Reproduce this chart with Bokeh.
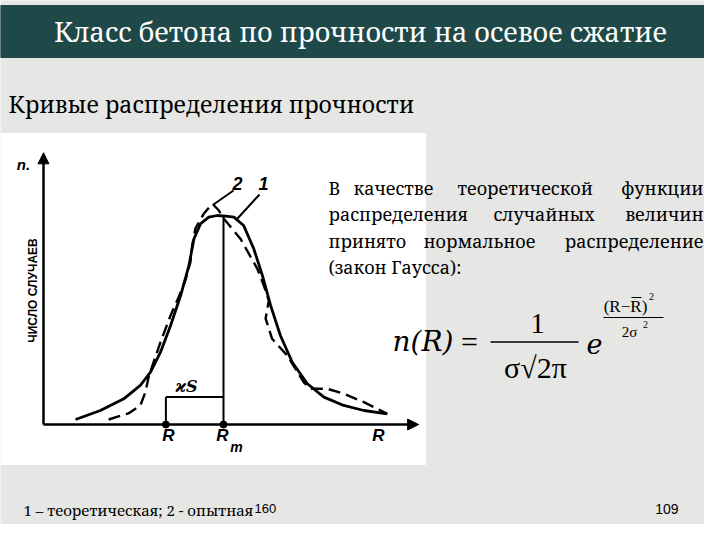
from math import pi
from bokeh.plotting import figure
from bokeh.models import Range1d, Arrow, NormalHead
from bokeh.core.properties import value
from bokeh.embed import file_html
from bokeh.resources import INLINE

# ---- chart data (R in arbitrary strength units, n = number of cases) ----
theory_R = [8.9, 15.8, 22.3, 26.9, 29.7, 32.5, 35.3, 38.1, 40.4, 41.8, 43.6, 45.9, 48.3,
            50.6, 52.9, 55.6, 58.4, 60.8, 63.1, 65.8, 69.1, 73.3, 77.9, 83.4, 89.0, 95.5]
theory_n = [2.4, 6.7, 12.3, 18.7, 25.0, 34.6, 47.4, 61.7, 76.1, 88.9, 96.0, 99.2, 100.0,
            99.7, 99.2, 95.2, 84.1, 71.3, 56.9, 42.6, 29.8, 19.5, 13.1, 9.1, 6.7, 5.1]
exp_R = [18.1, 23.6, 26.9, 28.3, 29.3, 32.5, 35.3, 37.5, 39.4, 40.8, 41.3, 42.2, 44.5, 46.9,
         48.7, 50.1, 54.7, 59.4, 61.2, 62.6, 61.7, 63.5, 67.7, 72.3, 74.2, 78.8, 83.4, 89.0, 95.5]
exp_n = [2.4, 5.3, 9.1, 15.5, 23.4, 39.4, 52.2, 60.8, 68.9, 77.5, 85.6, 93.8, 100.8, 105.7,
         102.4, 98.4, 88.9, 74.5, 66.5, 59.3, 50.7, 41.0, 33.0, 20.2, 17.1, 17.1, 14.7, 10.7, 5.1]
R_char = 34.0      # characteristic strength R
R_mean = 50.0      # mean strength Rm
n_peak = 100.0
R_axis_max = 104.2
n_axis_max = 130.0
tick_labels = ["R", "R", "R"]

title = "Класс бетона по прочности на осевое сжатие"
subtitle = "Кривые распределения прочности"
footer = "1 – теоретическая; 2 - опытная"

# ---- canvas: main ranges are slide pixel positions, chart uses its own ranges ----
W, H = 704, 524
p = figure(width=W, height=H, output_backend="svg", toolbar_location=None,
           x_range=Range1d(0, W), y_range=Range1d(H, 0),
           x_axis_type=None, y_axis_type=None, min_border=0)
p.grid.visible = False
p.outline_line_color = None
p.background_fill_color = "#e6e6e4"
p.border_fill_color = "#e6e6e4"

p.extra_x_ranges = {"c": Range1d((0 - 43) / 3.6, (W - 43) / 3.6)}
p.extra_y_ranges = {"c": Range1d((424 - H) / 2.09, (424 - 0) / 2.09)}

CYR = "Noto Serif, DejaVu Serif"      # serif faces with Cyrillic glyphs
LAT = "Liberation Serif"
ITA = "DejaVu Serif"
SANS = "Liberation Sans"


def txt(x, y, t, font=CYR, size="20px", style="normal", align="left",
        color="black", **extra):
    p.text(x=list(x), y=list(y), text=list(t), text_font=value(font), text_font_size=size,
           text_font_style=style, text_align=align, text_baseline="middle",
           text_color=color, **extra)


# header bar + title
p.quad(left=[0], right=[W], top=[5], bottom=[57], color="#1f4949")
txt([360], [31], [title], size="27px", align="center", color="white")
txt([8], [103], [subtitle], size="23px")

# white picture area
p.quad(left=[0], right=[425], top=[133], bottom=[464], color="white")

# ---- the chart ----
kw = dict(x_range_name="c", y_range_name="c")
p.add_layout(Arrow(x_start=0, y_start=0, x_end=0, y_end=n_axis_max, line_width=2.5,
                   end=NormalHead(size=11, fill_color="black", line_color="black"), **kw))
p.add_layout(Arrow(x_start=0, y_start=0, x_end=R_axis_max, y_end=0, line_width=2.5,
                   end=NormalHead(size=11, fill_color="black", line_color="black"), **kw))

p.line(theory_R, theory_n, line_color="black", line_width=2.8, **kw)
p.line(exp_R, exp_n, line_color="black", line_width=2.4, line_dash="12 6", **kw)

p.segment(x0=[R_mean], y0=[0], x1=[R_mean], y1=[n_peak], line_color="black", line_width=2, **kw)
p.segment(x0=[R_char], y0=[0], x1=[R_char], y1=[13.1], line_color="black", line_width=2, **kw)
p.segment(x0=[R_char], y0=[13.1], x1=[R_mean], y1=[13.1], line_color="black", line_width=2, **kw)
p.scatter([R_char, R_mean], [0, 0], size=7, color="black", **kw)

# leader lines for the curve numbers
p.segment(x0=[213, 237], y0=[204, 218], x1=[233, 259], y1=[190, 194],
          line_color="black", line_width=2)
txt([237, 263], [183, 183], ["2", "1"], font=SANS, size="18px",
    style="bold italic", align="center")

# axis texts
txt([168, 222, 378], [435, 435, 435], tick_labels, font=SANS, size="17px",
    style="bold italic", align="center")
txt([236], [446], ["m"], font=SANS, size="14px", style="bold italic", align="center")
txt([23], [164], ["n."], font=SANS, size="15px", style="bold italic", align="center")
txt([32], [290], ["ЧИСЛО СЛУЧАЕВ"], font=SANS, size="12px", style="bold",
    align="center", angle=pi / 2)
txt([186], [386], ["ϰS"], font=ITA, size="16px", style="bold italic", align="center")

# ---- paragraph (justified) ----
txt([328, 353, 457, 328, 493, 328, 423, 328], [187, 187, 187, 213, 213, 240, 240, 266],
    ["В", "качестве", "теоретической", "распределения", "случайных",
     "принято", "нормальное", "(закон Гаусса):"], size="18px")
txt([703, 703, 703], [187, 213, 240], ["функции", "величин", "распределение"],
    size="18px", align="right")

# ---- formula ----
txt([392], [341], ["n(R)"], font=ITA, size="28px", style="italic")
txt([469], [341], ["="], font=LAT, size="30px", align="center")
txt([537], [323], ["1"], font=LAT, size="29px", align="center")
p.segment(x0=[490], y0=[341.5], x1=[578], y1=[341.5], line_color="black", line_width=1.5)
txt([535], [367], ["σ√2π"], font=LAT, size="30px", align="center")
txt([594], [343], ["e"], font=ITA, size="27px", style="italic", align="center")
txt([625], [306], ["(R−R)"], font=LAT, size="17px", align="center")
p.segment(x0=[631], y0=[297], x1=[641], y1=[297], line_color="black", line_width=1)
txt([651], [296], ["2"], font=LAT, size="10px", align="center")
p.segment(x0=[603], y0=[317], x1=[663], y1=[317], line_color="black", line_width=1)
txt([629], [331], ["2σ"], font=LAT, size="15px", align="center")
txt([645], [324], ["2"], font=LAT, size="10px", align="center")

# ---- footer ----
txt([23], [509], [footer], size="15px")
txt([254], [508], ["160"], font=SANS, size="13px")
txt([678], [508], ["109"], font=SANS, size="14px", align="right")

open("out.html", "w").write(file_html(p, INLINE))
